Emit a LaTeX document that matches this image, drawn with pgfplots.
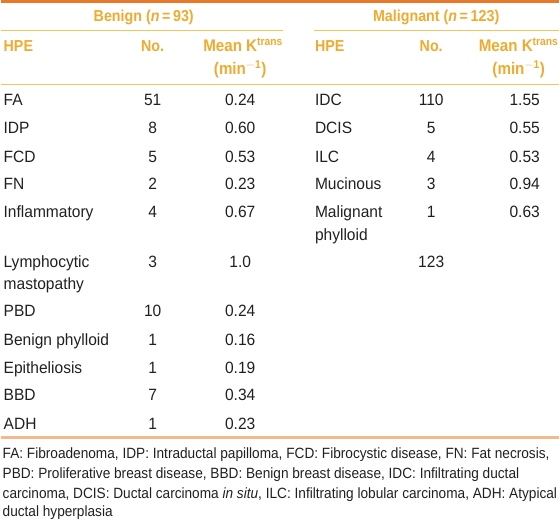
\documentclass[border=0pt]{standalone}
\usepackage{pgfplots}
\pgfplotsset{compat=1.18}
\usepackage{fontspec}
\setmainfont{Liberation Sans}[FakeStretch=0.95]
\newfontfamily\hdrfont{Liberation Sans}[FakeStretch=0.9]
\newfontfamily\footfont{Liberation Sans}[FakeStretch=0.918]
\definecolor{topline}{HTML}{E8792B}
\definecolor{hdr}{HTML}{F0AA2E}
\definecolor{hdrline}{HTML}{F2C45A}
\definecolor{botline}{HTML}{F5B888}
\definecolor{txt}{HTML}{231F20}
\newcommand{\sups}[1]{\textsuperscript{\fontsize{11.5}{13}\selectfont #1}}
\begin{document}
\begin{tikzpicture}
\begin{axis}[
  width=560bp, height=523bp, scale only axis,
  xmin=0, xmax=560, ymin=0, ymax=523, y dir=reverse,
  hide axis, clip=false,
]
\addplot[draw=none] coordinates {(0,0) (560,523)};
% rules
\draw[topline, line width=3bp] (axis cs:0,1.5) -- (axis cs:560,1.5);
\draw[hdrline, line width=1.2bp] (axis cs:0,31) -- (axis cs:283,31);
\draw[hdrline, line width=1.2bp] (axis cs:314,31) -- (axis cs:560,31);
\draw[hdrline, line width=1.2bp] (axis cs:0,85) -- (axis cs:560,85);
\draw[botline, line width=3bp] (axis cs:0,440) -- (axis cs:560,440);
% headers
\begin{scope}[every node/.style={inner sep=0pt, text=hdr, font=\hdrfont\fontsize{16}{19}\selectfont\bfseries}]
\node[anchor=base] at (axis cs:143,22) {Benign (\textit{n}\,=\,93)};
\node[anchor=base] at (axis cs:437,22) {Malignant (\textit{n}\,=\,123)};
\node[anchor=base west] at (axis cs:2,52) {HPE};
\node[anchor=base] at (axis cs:152,52) {No.};
\node[anchor=base east] at (axis cs:283,52) {\fontsize{17}{19}\selectfont Mean K\sups{trans}};
\node[anchor=base] at (axis cs:240,75) {\fontsize{17}{19}\selectfont(min\sups{$-$1})};
\node[anchor=base west] at (axis cs:315,52) {HPE};
\node[anchor=base] at (axis cs:432,52) {No.};
\node[anchor=base east] at (axis cs:560,52) {\fontsize{17}{19}\selectfont Mean K\sups{trans}};
\node[anchor=base] at (axis cs:520,75) {\fontsize{17}{19}\selectfont(min\sups{$-$1})};
\end{scope}
% body
\begin{scope}[every node/.style={inner sep=0pt, text=txt, font=\fontsize{16.5}{19}\selectfont}]
% benign
\node[anchor=base west] at (axis cs:2,106) {FA};
\node[anchor=base] at (axis cs:152,106) {51};
\node[anchor=base] at (axis cs:240,106) {0.24};
\node[anchor=base west] at (axis cs:2,134) {IDP};
\node[anchor=base] at (axis cs:152,134) {8};
\node[anchor=base] at (axis cs:240,134) {0.60};
\node[anchor=base west] at (axis cs:2,163) {FCD};
\node[anchor=base] at (axis cs:152,163) {5};
\node[anchor=base] at (axis cs:240,163) {0.53};
\node[anchor=base west] at (axis cs:2,191) {FN};
\node[anchor=base] at (axis cs:152,191) {2};
\node[anchor=base] at (axis cs:240,191) {0.23};
\node[anchor=base west] at (axis cs:2,219) {Inflammatory};
\node[anchor=base] at (axis cs:152,219) {4};
\node[anchor=base] at (axis cs:240,219) {0.67};
\node[anchor=base west] at (axis cs:2,269) {Lymphocytic};
\node[anchor=base west] at (axis cs:2,291) {mastopathy};
\node[anchor=base] at (axis cs:152,269) {3};
\node[anchor=base] at (axis cs:240,269) {1.0};
\node[anchor=base west] at (axis cs:2,318) {PBD};
\node[anchor=base] at (axis cs:152,318) {10};
\node[anchor=base] at (axis cs:240,318) {0.24};
\node[anchor=base west] at (axis cs:2,347) {Benign phylloid};
\node[anchor=base] at (axis cs:152,347) {1};
\node[anchor=base] at (axis cs:240,347) {0.16};
\node[anchor=base west] at (axis cs:2,375) {Epitheliosis};
\node[anchor=base] at (axis cs:152,375) {1};
\node[anchor=base] at (axis cs:240,375) {0.19};
\node[anchor=base west] at (axis cs:2,403) {BBD};
\node[anchor=base] at (axis cs:152,403) {7};
\node[anchor=base] at (axis cs:240,403) {0.34};
\node[anchor=base west] at (axis cs:2,432) {ADH};
\node[anchor=base] at (axis cs:152,432) {1};
\node[anchor=base] at (axis cs:240,432) {0.23};
% malignant
\node[anchor=base west] at (axis cs:315,106) {IDC};
\node[anchor=base] at (axis cs:432,106) {110};
\node[anchor=base] at (axis cs:526,106) {1.55};
\node[anchor=base west] at (axis cs:315,134) {DCIS};
\node[anchor=base] at (axis cs:432,134) {5};
\node[anchor=base] at (axis cs:526,134) {0.55};
\node[anchor=base west] at (axis cs:315,163) {ILC};
\node[anchor=base] at (axis cs:432,163) {4};
\node[anchor=base] at (axis cs:526,163) {0.53};
\node[anchor=base west] at (axis cs:315,191) {Mucinous};
\node[anchor=base] at (axis cs:432,191) {3};
\node[anchor=base] at (axis cs:526,191) {0.94};
\node[anchor=base west] at (axis cs:315,219) {Malignant};
\node[anchor=base west] at (axis cs:315,242) {phylloid};
\node[anchor=base] at (axis cs:432,219) {1};
\node[anchor=base] at (axis cs:526,219) {0.63};
\node[anchor=base] at (axis cs:432,269) {123};
\end{scope}
% footnote
\begin{scope}[every node/.style={inner sep=0pt, text=txt, anchor=base west, font=\footfont\fontsize{15}{18}\selectfont}]
\node at (axis cs:1,461) {FA: Fibroadenoma, IDP: Intraductal papilloma, FCD: Fibrocystic disease, FN: Fat necrosis,};
\node at (axis cs:1,481) {PBD: Proliferative breast disease, BBD: Benign breast disease, IDC: Infiltrating ductal};
\node at (axis cs:1,501) {carcinoma, DCIS: Ductal carcinoma \textit{in situ}, ILC: Infiltrating lobular carcinoma, ADH: Atypical};
\node at (axis cs:1,519) {ductal hyperplasia};
\end{scope}
\end{axis}
\end{tikzpicture}
\end{document}
